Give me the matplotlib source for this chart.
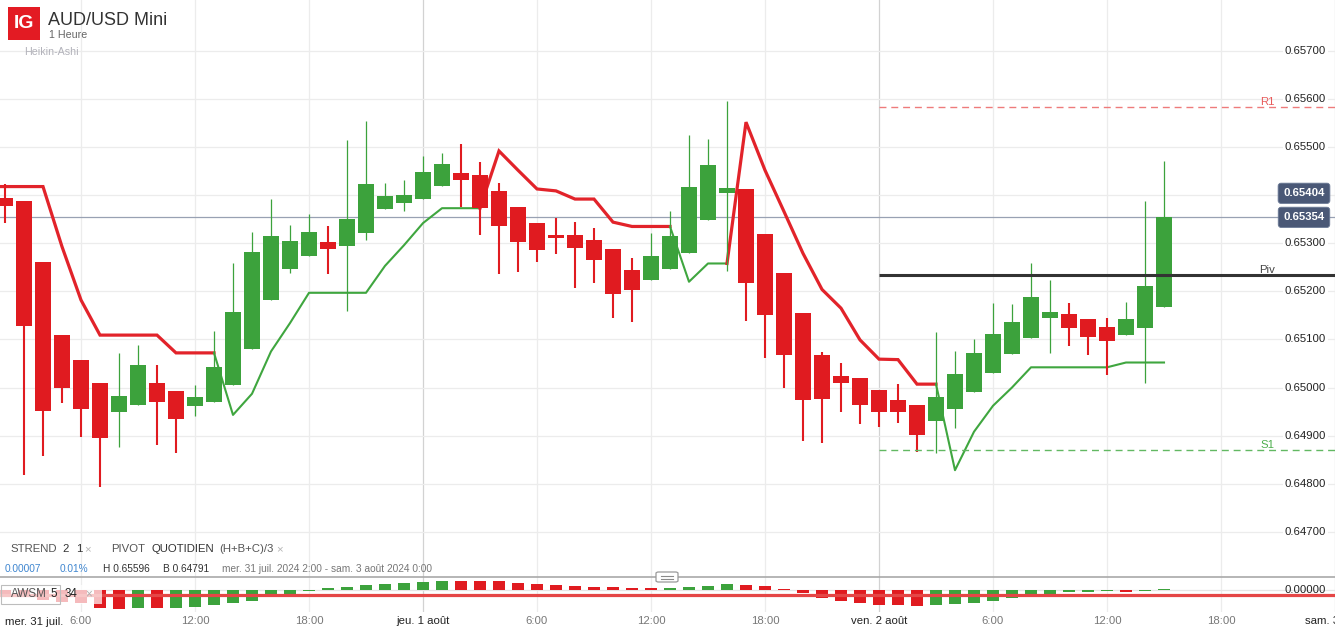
import numpy as np
import matplotlib
matplotlib.use('Agg')
from matplotlib import pyplot as plt
from matplotlib.patches import Rectangle, FancyBboxPatch
from matplotlib.lines import Line2D

plt.rcParams['font.family'] = ['Liberation Sans', 'DejaVu Sans']

# Heikin-Ashi candles, hours counted from mer. 31 juil. 00:00
hours = np.arange(2, 64)
ha_open = [0.65394, 0.65388, 0.65261, 0.65109, 0.65057, 0.65009, 0.64950, 0.64964, 0.65009, 0.64993,
           0.64962, 0.64970, 0.65006, 0.65081, 0.65181, 0.65247, 0.65274, 0.65303, 0.65295, 0.65322,
           0.65372, 0.65384, 0.65393, 0.65420, 0.65446, 0.65442, 0.65409, 0.65376, 0.65342, 0.65318,
           0.65317, 0.65307, 0.65288, 0.65244, 0.65224, 0.65247, 0.65280, 0.65349, 0.65405, 0.65413,
           0.65319, 0.65238, 0.65155, 0.65068, 0.65024, 0.65020, 0.64995, 0.64974, 0.64964, 0.64931,
           0.64956, 0.64991, 0.65031, 0.65070, 0.65102, 0.65145, 0.65153, 0.65143, 0.65126, 0.65110,
           0.65124, 0.65168]
ha_high = [0.65423, 0.65388, 0.65261, 0.65109, 0.65057, 0.65009, 0.65072, 0.65088, 0.65047, 0.64993,
           0.65005, 0.65118, 0.65259, 0.65324, 0.65392, 0.65338, 0.65361, 0.65336, 0.65515, 0.65554,
           0.65425, 0.65432, 0.65482, 0.65488, 0.65507, 0.65469, 0.65425, 0.65376, 0.65342, 0.65353,
           0.65344, 0.65332, 0.65288, 0.65269, 0.65321, 0.65367, 0.65525, 0.65517, 0.65596, 0.65413,
           0.65319, 0.65238, 0.65155, 0.65074, 0.65051, 0.65020, 0.64995, 0.65007, 0.64964, 0.65115,
           0.65076, 0.65101, 0.65176, 0.65174, 0.65259, 0.65224, 0.65176, 0.65143, 0.65145, 0.65178,
           0.65388, 0.65471]
ha_low = [0.65343, 0.64819, 0.64858, 0.64968, 0.64896, 0.64792, 0.64877, 0.64964, 0.64881, 0.64864,
          0.64941, 0.64970, 0.65006, 0.65081, 0.65181, 0.65239, 0.65274, 0.65237, 0.65160, 0.65307,
          0.65372, 0.65368, 0.65393, 0.65420, 0.65375, 0.65318, 0.65237, 0.65241, 0.65262, 0.65278,
          0.65206, 0.65218, 0.65145, 0.65137, 0.65224, 0.65247, 0.65280, 0.65349, 0.65243, 0.65139,
          0.65062, 0.64998, 0.64889, 0.64885, 0.64948, 0.64925, 0.64918, 0.64927, 0.64866, 0.64864,
          0.64916, 0.64991, 0.65031, 0.65070, 0.65102, 0.65072, 0.65087, 0.65068, 0.65025, 0.65110,
          0.65010, 0.65168]
ha_close = [0.65378, 0.65127, 0.64952, 0.65000, 0.64955, 0.64894, 0.64982, 0.65047, 0.64970, 0.64935,
            0.64980, 0.65043, 0.65157, 0.65282, 0.65315, 0.65305, 0.65324, 0.65289, 0.65351, 0.65423,
            0.65398, 0.65400, 0.65448, 0.65465, 0.65432, 0.65373, 0.65335, 0.65303, 0.65285, 0.65310,
            0.65291, 0.65266, 0.65195, 0.65203, 0.65274, 0.65315, 0.65417, 0.65463, 0.65415, 0.65218,
            0.65151, 0.65068, 0.64973, 0.64977, 0.65010, 0.64963, 0.64950, 0.64948, 0.64901, 0.64980,
            0.65028, 0.65072, 0.65111, 0.65136, 0.65188, 0.65157, 0.65124, 0.65106, 0.65097, 0.65143,
            0.65211, 0.65354]

# SuperTrend (2, 1): value and trend (-1 = baissier / rouge, 1 = haussier / vert)
st_hours = np.arange(1, 64)
st_value = [0.65418, 0.65418, 0.65418, 0.65418, 0.65293, 0.65182, 0.65109, 0.65109, 0.65109, 0.65109,
            0.65072, 0.65072, 0.65072, 0.64943, 0.64987, 0.65075, 0.65134, 0.65197, 0.65197, 0.65197,
            0.65197, 0.65253, 0.65296, 0.65342, 0.65373, 0.65373, 0.65373, 0.65492, 0.65452, 0.65413,
            0.65409, 0.65392, 0.65392, 0.65344, 0.65335, 0.65335, 0.65335, 0.65220, 0.65258, 0.65258,
            0.65552, 0.65452, 0.65366, 0.65279, 0.65204, 0.65165, 0.65099, 0.65059, 0.65058, 0.65007,
            0.65007, 0.64828, 0.64908, 0.64962, 0.65000, 0.65042, 0.65042, 0.65042, 0.65042, 0.65042,
            0.65052, 0.65052, 0.65052]
st_trend = [-1] * 13 + [1] * 14 + [-1] * 10 + [1] * 3 + [-1] * 11 + [1] * 12

# AWSM (5, 34)
awsm = [-0.00040, -0.00070, -0.00100, -0.00120, -0.00133, -0.00183, -0.00185, -0.00183, -0.00183, -0.00180,
        -0.00167, -0.00150, -0.00133, -0.00107, -0.00073, -0.00047, -0.00005, 0.00017, 0.00030, 0.00047,
        0.00060, 0.00067, 0.00083, 0.00093, 0.00092, 0.00091, 0.00087, 0.00073, 0.00060, 0.00047,
        0.00037, 0.00030, 0.00027, 0.00020, 0.00017, 0.00018, 0.00027, 0.00040, 0.00057, 0.00050,
        0.00037, 0.00010, -0.00033, -0.00083, -0.00113, -0.00133, -0.00150, -0.00152, -0.00157, -0.00147,
        -0.00140, -0.00127, -0.00107, -0.00080, -0.00050, -0.00040, -0.00023, -0.00017, -0.00013, -0.00015,
        -0.00010, 0.00010]
awsm_signal = -0.0005

# pivots quotidiens (from ven. 2 août 00:00)
pivot_start = 48
r1, piv, s1 = 0.65584, 0.65234, 0.64871
last_price = 0.65354
ask_price = 0.65404

price_ticks = np.round(np.arange(0.647, 0.6575, 0.001), 5)
time_ticks = [6, 12, 18, 24, 30, 36, 42, 48, 54, 60, 66, 72]
time_labels = ['6:00', '12:00', '18:00', 'jeu. 1 août', '6:00', '12:00', '18:00',
               'ven. 2 août', '6:00', '12:00', '18:00', 'sam. 3 août']

RED = '#e01b20'
GREEN = '#3ca23c'

W, H = 1335, 631
def fx(x):
    return x / W
def fy(y):
    return 1 - y / H

fig = plt.figure(figsize=(W / 100, H / 100), dpi=100)
ax = fig.add_axes([0, 54 / H, 1, 577 / H])
ax2 = fig.add_axes([0, 19 / H, 1, 35 / H])

for a in (ax, ax2):
    a.set_xlim(1.737, 72)
    for s in a.spines.values():
        s.set_visible(False)
    for t in time_ticks:
        a.axvline(t, color='#d2d2d2' if t % 24 == 0 else '#ececec', lw=0.9, zorder=0)

ax.set_ylim(0.646058, 0.658061)
ax.set_xticks([])
ax.set_yticks([])
for p in price_ticks:
    ax.axhline(p, color='#ececec', lw=0.9, zorder=0)
    ax.text(fx(1326), p, '%.5f' % p, transform=ax.get_yaxis_transform(), ha='right', va='center',
            fontsize=8.2, color='#222222', zorder=6,
            bbox=dict(boxstyle='square,pad=0.15', fc='white', ec='none'))

# candles
o = np.array(ha_open)
hi = np.array(ha_high)
lo = np.array(ha_low)
c = np.array(ha_close)
up = c >= o
ax.vlines(hours[up], lo[up], hi[up], color=GREEN, lw=0.9, zorder=3)
ax.vlines(hours[~up], lo[~up], hi[~up], color=RED, lw=1.5, zorder=3)
ax.bar(hours, np.abs(c - o), bottom=np.minimum(o, c), width=0.84,
       color=np.where(up, GREEN, RED), linewidth=0, zorder=3)

# supertrend, one line per run of the same trend
st_value = np.array(st_value)
st_trend = np.array(st_trend)
start = 0
for i in range(1, len(st_trend) + 1):
    if i == len(st_trend) or st_trend[i] != st_trend[start]:
        j0 = max(start - 1, 0)
        if st_trend[start] < 0:
            ax.plot(st_hours[j0:i], st_value[j0:i], color='#e2232a', lw=2.3, zorder=2,
                    solid_joinstyle='miter')
        else:
            ax.plot(st_hours[j0:i], st_value[j0:i], color='#3fa63f', lw=1.5, zorder=2)
        start = i

# last price line and pivots
ax.axhline(last_price, color='#98a1b3', lw=0.9, zorder=1)
ax.hlines(r1, pivot_start, 72, color='#ee7b7b', lw=1.0, linestyles=(0, (5, 3.5)), zorder=4)
ax.hlines(s1, pivot_start, 72, color='#62b862', lw=1.0, linestyles=(0, (5, 3.5)), zorder=4)
ax.hlines(piv, pivot_start, 72, color='#333333', lw=2.2, zorder=4)
for val, lab, col in [(r1, 'R1', '#e85a5a'), (piv, 'Piv', '#444444'), (s1, 'S1', '#4cae4c')]:
    ax.text(fx(1267), val, lab, transform=ax.get_yaxis_transform(), ha='center', va='bottom',
            fontsize=8.2, color=col, zorder=5)

for val in (ask_price, last_price):
    ax.text(fx(1304), val, '%.5f' % val, transform=ax.get_yaxis_transform(), ha='center',
            va='center', fontsize=8.2, color='white', fontweight='bold', zorder=7,
            bbox=dict(boxstyle='round,pad=0.45,rounding_size=0.25', fc='#4a5876', ec='#6b7a96', lw=0.6))

# AWSM panel
aw = np.array(awsm)
rising = np.diff(aw, prepend=np.nan) > 0
ax2.set_ylim(-0.0022, 0.0013)
ax2.axhline(0, color='#e6e6e6', lw=0.9, zorder=0)
ax2.bar(hours, aw, width=0.68, color=np.where(rising, GREEN, RED), linewidth=0, zorder=2)
ax2.axhline(awsm_signal, color='#e54646', lw=2.3, zorder=3)
ax2.spines['top'].set_visible(True)
ax2.spines['top'].set_color('#a9a9a9')
ax2.spines['top'].set_linewidth(1.2)
ax2.set_yticks([])
ax2.set_xticks(time_ticks, time_labels)
ax2.tick_params(axis='x', length=0, pad=3, labelsize=8.2)
for lab in ax2.get_xticklabels():
    lab.set_color('#222222' if 'août' in lab.get_text() else '#777777')
ax2.text(fx(1326), 0, '0.00000', transform=ax2.get_yaxis_transform(), ha='right', va='center',
         fontsize=8.2, color='#222222', zorder=5)
fig.text(fx(5), fy(622), 'mer. 31 juil.', ha='left', va='center', fontsize=8.2, color='#222222')

# handle between panels
fig.patches.append(FancyBboxPatch((fx(656), fy(582)), 22 / W, 10 / H, transform=fig.transFigure,
                                  boxstyle='round,pad=0,rounding_size=0.002', fc='white',
                                  ec='#9a9a9a', lw=0.9, zorder=9))
for yy in (575.5, 578.5):
    fig.lines.append(Line2D([fx(661), fx(673)], [fy(yy), fy(yy)], transform=fig.transFigure,
                            color='#8a8a8a', lw=0.8, zorder=10))

# AWSM legend
fig.patches.append(Rectangle((0, fy(604)), 102 / W, 19 / H, transform=fig.transFigure,
                             fc='white', ec='none', alpha=0.7, zorder=8))
fig.patches.append(Rectangle((fx(0.5), fy(604)), 59 / W, 19 / H, transform=fig.transFigure,
                             fc='none', ec='#bdbdbd', lw=0.8, zorder=8))
for x, s, col in [(11, 'AWSM', '#555555'), (50, '5', '#222222'), (65, '34', '#222222'),
                  (85, '\u00d7', '#b0b0b0')]:
    fig.text(fx(x), fy(594), s, ha='left', va='center', fontsize=8.4, color=col, zorder=9)

# indicator legend
row1 = [(10, 'STREND', '#555555'), (62, '2', '#333333'), (76, '1', '#333333'), (84, '\u00d7', '#b5b5b5'),
        (111, 'PIVOT', '#555555'), (151, 'QUOTIDIEN', '#333333'), (219, '(H+B+C)/3', '#555555'),
        (276, '\u00d7', '#b5b5b5')]
for x, s, col in row1:
    fig.text(fx(x), fy(549), s, ha='left', va='center', fontsize=8.2, color=col)
row2 = [(5, '0.00007', '#3f86d0'), (60, '0.01%', '#3f86d0'), (103, 'H 0.65596', '#333333'),
        (163, 'B 0.64791', '#333333'), (222, 'mer. 31 juil. 2024 2:00 - sam. 3 ao\u00fbt 2024 0:00', '#777777')]
for x, s, col in row2:
    fig.text(fx(x), fy(568.5), s, ha='left', va='center', fontsize=7.3, color=col)

# header
fig.patches.append(Rectangle((fx(8), fy(40)), 32 / W, 33 / H, transform=fig.transFigure,
                             fc='#e31b23', ec='none'))
fig.text(fx(24), fy(24), 'IG', ha='center', va='center', fontsize=14, fontweight='bold', color='white')
fig.text(fx(48), fy(25), 'AUD/USD Mini', ha='left', va='baseline', fontsize=13, color='#333333')
fig.text(fx(49), fy(38), '1 Heure', ha='left', va='baseline', fontsize=7.7, color='#666666')
fig.text(fx(24), fy(55), 'Heikin-Ashi', ha='left', va='baseline', fontsize=7.7, color='#b2b2ba')

fig.savefig('out.png', dpi=100, facecolor='white')
